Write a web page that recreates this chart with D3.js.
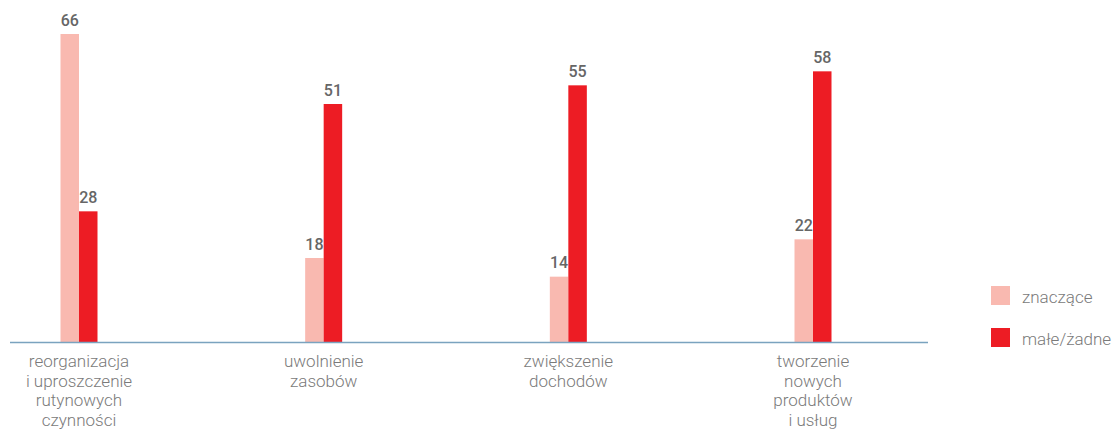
<!DOCTYPE html>
<html><head><meta charset="utf-8">
<script src="https://cdn.jsdelivr.net/npm/d3@7"></script>
<style>body{margin:0;background:#fff}svg{display:block}</style>
</head><body>
<svg id="c" width="1115" height="432"></svg>
<script>
const categories = [
  ["reorganizacja","i uproszczenie","rutynowych","czynności"],
  ["uwolnienie","zasobów"],
  ["zwiększenie","dochodów"],
  ["tworzenie","nowych","produktów","i usług"]
];
const seriesNames = ["znaczące","małe/żadne"];
const znaczace = [66, 18, 14, 22];
const maleZadne = [28, 51, 55, 58];
const colors = ["#f9b9b0","#ed1c24"];

const svg = d3.select("#c");
const font = "Roboto, 'Open Sans', sans-serif";
const idx = d3.range(categories.length);
const x = d3.scalePoint().domain(idx).range([79, 813]);
const y = d3.scaleLinear().domain([0, 66]).range([342, 34]);
const sub = d3.scaleBand().domain([0,1]).range([-18.5, 18.5]).padding(0);
const series = [znaczace, maleZadne];

series.forEach((vals, s) => {
  const g = svg.append("g");
  g.selectAll("rect").data(vals).join("rect")
    .attr("x", (d,i) => x(i) + sub(s))
    .attr("width", sub.bandwidth())
    .attr("y", d => y(d))
    .attr("height", d => y(0) - y(d))
    .attr("fill", colors[s]);
  g.selectAll("text").data(vals).join("text")
    .attr("x", (d,i) => x(i) + sub(s) + sub.bandwidth()/2)
    .attr("y", d => y(d) - 8.5)
    .attr("text-anchor", "middle")
    .attr("font-family", font).attr("font-size", 16).attr("font-weight", 500)
    .attr("fill", "#666").text(d => d);
});

svg.append("line").attr("x1", 10).attr("x2", 928).attr("y1", y(0)+0.5).attr("y2", y(0)+0.5)
  .attr("stroke", "#7aa3bf").attr("stroke-width", 1.5);

categories.forEach((lines, i) => {
  const t = svg.append("text").attr("text-anchor", "middle")
    .attr("font-family", font).attr("font-size", 17).attr("font-weight", 300).attr("fill", "#7a7a7a");
  lines.forEach((l, k) => t.append("tspan").attr("x", x(i)).attr("y", 367 + k*19.7).text(l));
});

const leg = svg.append("g");
seriesNames.forEach((n, s) => {
  leg.append("rect").attr("x", 991).attr("y", 286 + s*42).attr("width", 19).attr("height", 19).attr("fill", colors[s]);
  leg.append("text").attr("x", 1022).attr("y", 303 + s*42).attr("font-family", font).attr("font-size", 17)
    .attr("font-weight", 300).attr("fill", "#7a7a7a").text(n);
});
</script>
</body></html>
